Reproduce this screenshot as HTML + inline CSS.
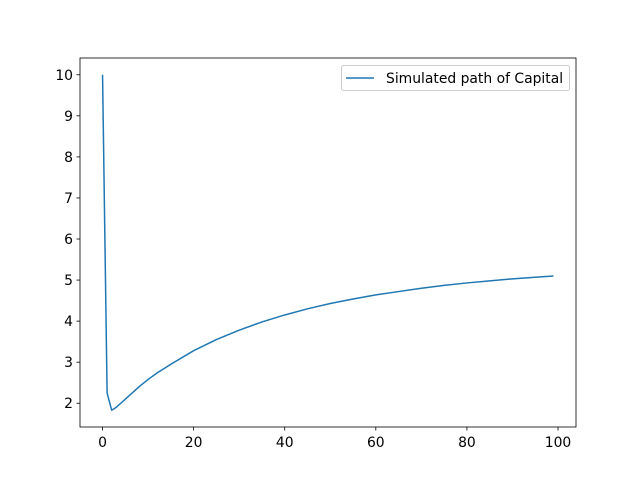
<!DOCTYPE html>
<html><head><meta charset="utf-8"><style>
body{margin:0;background:#fff;}
svg text{font-family:"DejaVu Sans","Liberation Sans",sans-serif;font-size:13.9px;fill:#000;}
</style></head><body>
<svg id="chart" width="640" height="480">
<rect width="640" height="480" fill="#fff"/>
<g id="plot"></g>
</svg>
<script>
const periods=[0,1,2,3,4,5,6,8,10,12,15,20,25,30,35,40,45,50,55,60,65,70,75,80,85,90,95,99];
const capital=[10,2.25,1.83,1.9,2.0,2.1,2.2,2.4,2.58,2.74,2.95,3.28,3.55,3.78,3.98,4.15,4.3,4.43,4.54,4.64,4.72,4.8,4.87,4.93,4.98,5.03,5.07,5.1];
const xTicks=[0,20,40,60,80,100];
const yTicks=[2,3,4,5,6,7,8,9,10];
const L=80,R=576,T=58,B=427;
const xmin=-4.95,xmax=103.95,ymin=1.4215,ymax=10.4085;
const sx=v=>L+(v-xmin)/(xmax-xmin)*(R-L);
const sy=v=>B-(v-ymin)/(ymax-ymin)*(B-T);
const NS='http://www.w3.org/2000/svg';
const g=document.getElementById('plot');
function mk(t,a){const e=document.createElementNS(NS,t);for(const k in a)e.setAttribute(k,a[k]);g.appendChild(e);return e;}
let d=periods.map((p,i)=>(i?'L':'M')+sx(p).toFixed(2)+','+sy(capital[i]).toFixed(2)).join('');
let line=mk('path',{d:d,fill:'none',stroke:'#1f77b4','stroke-width':1.5,'stroke-linejoin':'round'});


xTicks.forEach(v=>{const x=sx(v);
 let t=mk('line',{x1:x,x2:x,y1:B,y2:B+3.5,stroke:'#000','stroke-width':0.8});
 
 let l=mk('text',{x:x,y:B+20,'text-anchor':'middle'});l.textContent=v;
 });
yTicks.forEach(v=>{const y=sy(v);
 let t=mk('line',{x1:L-3.5,x2:L,y1:y,y2:y,stroke:'#000','stroke-width':0.8});
 
 let l=mk('text',{x:L-7,y:y+5,'text-anchor':'end'});l.textContent=v;
 });
let fr=mk('rect',{x:L,y:T,width:R-L,height:B-T,fill:'none',stroke:'#000','stroke-width':0.8});

let lg=mk('rect',{x:341.5,y:65.5,width:228,height:25,fill:'#fff',stroke:'#ccc','stroke-width':1,rx:2});

let ll=mk('line',{x1:346,x2:374,y1:78,y2:78,stroke:'#1f77b4','stroke-width':1.5});

let lt=mk('text',{x:386,y:83});lt.textContent='Simulated path of Capital';

</script>
</body></html>
